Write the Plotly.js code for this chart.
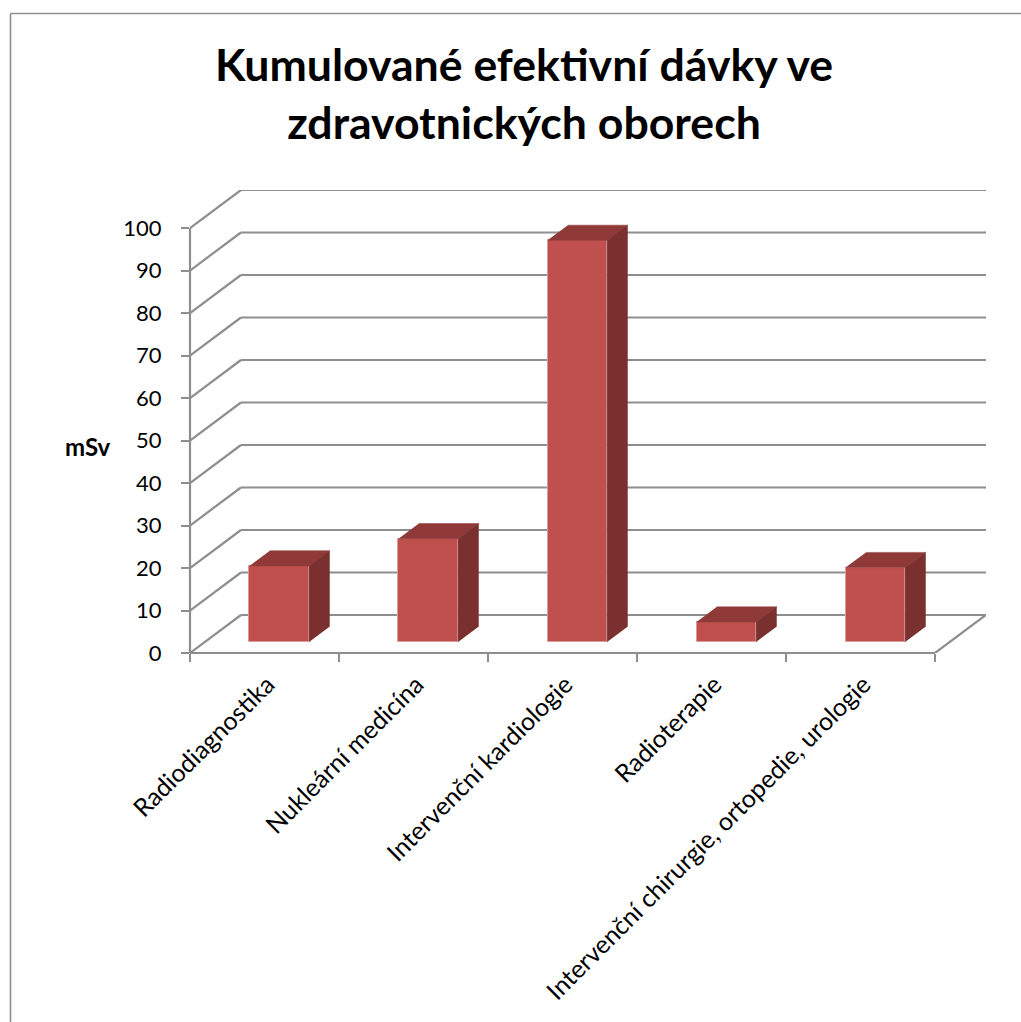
<!DOCTYPE html>
<html lang="cs">
<head>
<meta charset="utf-8">
<title>Kumulované efektivní dávky</title>
<script src="https://cdn.plot.ly/plotly-3.0.1.min.js"></script>
<style>html,body{margin:0;padding:0;background:#fff}#chart{width:1021px;height:1022px}</style>
</head>
<body>
<div id="chart"></div>
<script>
// Doses per medical field
const categories = ['Radiodiagnostika', 'Nukleární medicína', 'Intervenční kardiologie', 'Radioterapie', 'Intervenční chirurgie, ortopedie, urologie'];
const doses = [17.9, 24.3, 94.5, 4.7, 17.5];
const yTicks = [0, 10, 20, 30, 40, 50, 60, 70, 80, 90, 100];

// Oblique projection: one full step in depth moves a point by these data amounts
const DEPTH_X = 0.342;
const DEPTH_Y = 8.94;
const BAR_HALF = 0.2;
const BAR_NEAR = 0.29;
const BAR_FAR = 0.69;
const X_MIN = -0.5, X_END = 4.5, X_MAX = X_END + DEPTH_X;
const Y_MAX = 100 + DEPTH_Y;

const FRONT = '#C0504D', TOP = '#8F3A38', SIDE = '#7A302E', AXIS = '#8E8E8E';
const FONT = 'Lato, "Open Sans", sans-serif';

const px = x => (x - X_MIN) / (X_MAX - X_MIN);
const py = y => y / Y_MAX;
const project = (x, y, d) => [x + d * DEPTH_X, y + d * DEPTH_Y];

function face(points, color) {
  return {
    type: 'scatter', mode: 'lines', x: points.map(p => p[0]), y: points.map(p => p[1]),
    fill: 'toself', fillcolor: color, line: {color: color, width: 0.5},
    hoverinfo: 'skip', showlegend: false
  };
}

const traces = [{
  type: 'bar', x: categories.map((_, i) => i), y: doses,
  base: DEPTH_Y * BAR_NEAR,
  width: 2 * BAR_HALF, offset: BAR_NEAR * DEPTH_X - BAR_HALF,
  marker: {color: FRONT, line: {color: '#DB9C9A', width: 1}},
  hovertext: categories, hoverinfo: 'text+y', showlegend: false
}];

doses.forEach((v, i) => {
  const L = i - BAR_HALF, R = i + BAR_HALF;
  const top = [project(L, v, BAR_NEAR), project(R, v, BAR_NEAR), project(R, v, BAR_FAR), project(L, v, BAR_FAR)];
  const side = [project(R, 0, BAR_NEAR), project(R, v, BAR_NEAR), project(R, v, BAR_FAR), project(R, 0, BAR_FAR)];
  traces.push(face(top, TOP), face(side, SIDE));
});

const LINE_W = 2.2;
function line(x0, y0, x1, y1) {
  return {type: 'line', xref: 'x', yref: 'y', x0, y0, x1, y1, layer: 'below',
    line: {color: AXIS, width: LINE_W}};
}

const shapes = [];
yTicks.forEach(t => {
  const back0 = project(X_MIN, t, 1), back1 = project(X_END, t, 1);
  shapes.push(line(X_MIN, t, back0[0], back0[1]));
  shapes.push(line(back0[0], back0[1], back1[0], back1[1]));
});
const floorEnd = project(X_END, 0, 1);
shapes.push(line(X_END, 0, floorEnd[0], floorEnd[1]));

// Axis lines stop at the front plane, so they are laid on top of the plot clip
const paperLine = (x0, y0, x1, y1, width) => ({type: 'line', xref: 'paper', yref: 'paper', x0, y0, x1, y1,
  layer: 'below', line: {color: AXIS, width: width || LINE_W}});
shapes.push(paperLine(px(X_MIN), py(0), px(X_END), py(0)));
shapes.push(paperLine(px(X_MIN), py(0), px(X_MIN), py(100)));

// Outer chart frame: only its top and left edges show
const W = 796, H = 463, L0 = 190, T0 = 190;
const fx = v => (v - L0) / W, fy = v => 1 - (v - T0) / H;
shapes.push(paperLine(fx(10.5), fy(13.5), fx(1021), fy(13.5), 1.6));
shapes.push(paperLine(fx(10.5), fy(13.5), fx(10.5), fy(1022), 1.6));

// Labels sit slightly right of the band centres, following the bars' depth
const LABEL_SHIFT = 0.02;

const layout = {
  width: 1021, height: 1022, autosize: false,
  margin: {l: L0, r: 1021 - L0 - W, t: T0, b: 1022 - T0 - H, pad: 0},
  paper_bgcolor: '#fff', plot_bgcolor: 'rgba(0,0,0,0)',
  showlegend: false,
  title: {
    text: 'Kumulované efektivní dávky ve<br>zdravotnických oborech',
    font: {family: FONT, size: 44.6, color: '#000', weight: 700},
    x: 524 / 1021, xanchor: 'center', y: 0.921, yanchor: 'middle'
  },
  xaxis: {
    type: 'linear', range: [X_MIN, X_MAX], showgrid: false, zeroline: false, showline: false,
    tickmode: 'array', tickvals: categories.map((_, i) => i + LABEL_SHIFT), ticktext: categories,
    tickangle: -45, ticks: '', ticklabelstandoff: 11, tickfont: {family: FONT, size: 25, color: '#000'},
    minor: {tickmode: 'array', tickvals: [-0.5, 0.5, 1.5, 2.5, 3.5, 4.5], ticks: 'outside', ticklen: 8, tickwidth: LINE_W, tickcolor: AXIS, showgrid: false}
  },
  yaxis: {
    range: [0, Y_MAX], showgrid: false, zeroline: false, showline: false,
    tickmode: 'array', tickvals: yTicks, ticks: 'outside', ticklen: 8, tickwidth: LINE_W, tickcolor: AXIS,
    ticklabelstandoff: 15,
    tickfont: {family: FONT, size: 22, color: '#000'}
  },
  shapes: shapes,
  annotations: [{
    text: '<b>mSv</b>', xref: 'paper', yref: 'paper', x: fx(88), y: fy(446), xanchor: 'center', yanchor: 'middle',
    showarrow: false, font: {family: FONT, size: 24, color: '#000'}
  }],
  bargap: 0
};

Plotly.newPlot('chart', traces, layout, {displayModeBar: false, responsive: false});
</script>
</body>
</html>
